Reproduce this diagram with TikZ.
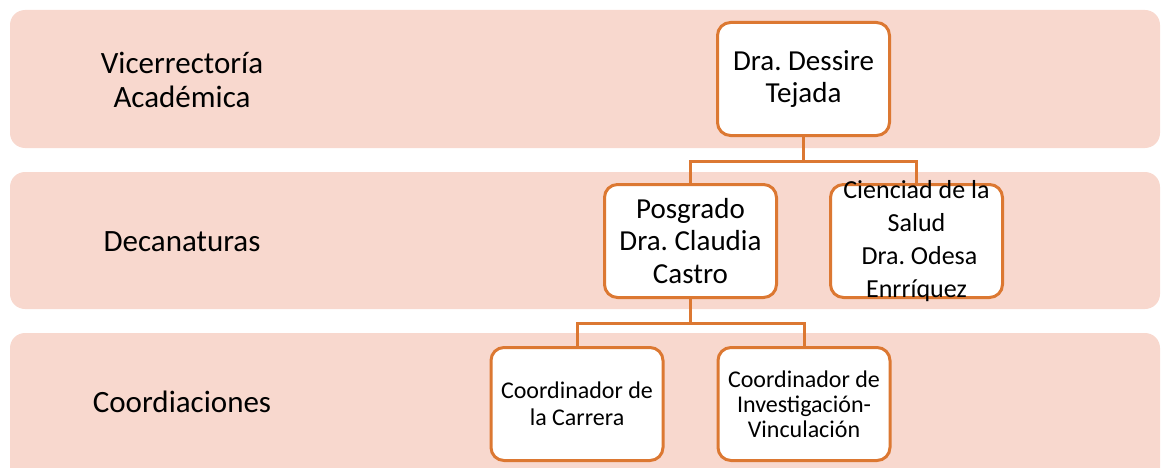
\documentclass[tikz,border=0pt]{standalone}
\usepackage{fontspec}
\setmainfont{Carlito}
\usetikzlibrary{positioning}
\definecolor{bandfill}{RGB}{248,216,206}
\definecolor{orgline}{RGB}{220,120,50}
\frenchspacing
\tikzset{
  unitbox/.style={draw=orgline, line width=3pt, fill=white, rounded corners=13pt,
    minimum width=172pt, minimum height=113pt, align=center, inner xsep=4pt},
  linkline/.style={draw=orgline, line width=3pt}
}
\begin{document}
\begin{tikzpicture}[x=1pt, y=-1pt]
  \useasboundingbox (0,0) rectangle (1161,468);
  % bands: vicerrectoria, decanaturas, coordiaciones
  \foreach \ya/\yb/\yc/\name/\lbl in {
      10/148/80/vice/{Vicerrectoría\\Académica},
      172/309/242/deca/{Decanaturas},
      333/484/402/coor/{Coordiaciones}} {
    \fill[bandfill, rounded corners=15pt] (10,\ya) rectangle (1160,\yb);
    \node[align=center, font=\fontsize{31}{34}\selectfont] (band-\name) at (182,\yc) {\lbl};
  }
  \node[unitbox, font=\fontsize{29}{32.5}\selectfont] (dessire) at (803.5,79) {Dra. Dessire\\Tejada};
  \node[unitbox, font=\fontsize{29}{32.5}\selectfont] (posgrado) at (690.5,241) {Posgrado\\Dra. Claudia\\Castro};
  \node[unitbox, inner ysep=-8pt, font=\fontsize{26}{33}\selectfont] (salud) at (916.5,241) {Cienciad de la\\Salud\\\ Dra. Odesa\\Enrríquez};
  \node[unitbox, font=\fontsize{24}{26.5}\selectfont] (carrera) at (577,404) {Coordinador de\\la Carrera};
  \node[unitbox, font=\fontsize{24}{25}\selectfont] (investig) at (804,404) {Coordinador de\\Investigación-\\Vinculación};
  \draw[linkline] (dessire.south) -- ++(0,24) -| (posgrado.north);
  \draw[linkline] (dessire.south) -- ++(0,24) -| (salud.north);
  \draw[linkline] (posgrado.south) -- ++(0,24) -| (carrera.north);
  \draw[linkline] (posgrado.south) -- ++(0,24) -| (investig.north);
\end{tikzpicture}
\end{document}
